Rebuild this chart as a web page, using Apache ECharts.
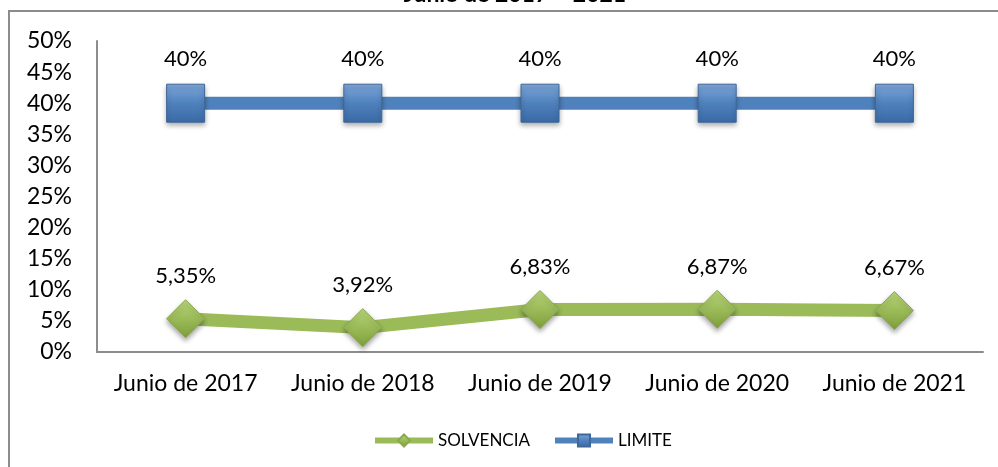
<!DOCTYPE html>
<html>
<head>
<meta charset="utf-8">
<script src="https://cdn.jsdelivr.net/npm/echarts@6/dist/echarts.min.js"></script>
<style>
  html, body { margin: 0; padding: 0; background: #fff; }
  #chart { width: 998px; height: 467px; }
</style>
</head>
<body>
<div id="chart"></div>
<script>
var categories = ["Junio de 2017", "Junio de 2018", "Junio de 2019", "Junio de 2020", "Junio de 2021"];
var solvencia = [0.0535, 0.0392, 0.0683, 0.0687, 0.0667];
var limite = [0.40, 0.40, 0.40, 0.40, 0.40];

var chart = echarts.init(document.getElementById("chart"));

var fontFam = "Lato, 'Open Sans', sans-serif";

function pct(v, dec) {
  return (v * 100).toFixed(dec).replace(".", ",") + "%";
}

var option = {
  backgroundColor: "#ffffff",
  animation: false,
  title: {
    text: "Junio de 2017 – 2021",
    left: 510,
    top: -22,
    textAlign: "center",
    textStyle: { fontFamily: fontFam, fontSize: 23, fontWeight: "bold", color: "#000" }
  },
  graphic: [
    {
      type: "polyline",
      shape: { points: [[9, 467], [9, 11], [998, 11]] },
      style: { stroke: "#8c8c8c", lineWidth: 2, fill: null },
      silent: true
    }
  ],
  grid: { left: 97, right: 15, top: 41, bottom: 115 },
  legend: {
    top: 427,
    left: 367,
    itemWidth: 58,
    itemHeight: 15,
    itemGap: 22,
    lineStyle: { width: 6 },
    textStyle: { fontFamily: fontFam, fontSize: 17, color: "#000" },
    data: ["SOLVENCIA", "LIMITE"]
  },
  xAxis: {
    type: "category",
    data: categories,
    boundaryGap: true,
    axisLine: { show: true, lineStyle: { color: "#8c8c8c", width: 2 } },
    axisTick: { show: false },
    axisLabel: { fontFamily: fontFam, fontSize: 23, color: "#000", margin: 20, interval: 0, hideOverlap: false }
  },
  yAxis: {
    type: "value",
    min: 0,
    max: 0.5,
    interval: 0.05,
    axisLine: { show: true, lineStyle: { color: "#8c8c8c", width: 2 } },
    axisTick: { show: false },
    splitLine: { show: false },
    axisLabel: {
      fontFamily: fontFam, fontSize: 23, color: "#000", margin: 25,
      formatter: function (v) { return Math.round(v * 100) + "%"; }
    }
  },
  series: [
    {
      name: "SOLVENCIA",
      type: "line",
      data: solvencia,
      symbol: "diamond",
      symbolSize: 38,
      lineStyle: { color: "#9bbb59", width: 13 },
      itemStyle: {
        color: new echarts.graphic.LinearGradient(0, 0, 0, 1, [
          { offset: 0, color: "#b9d77a" },
          { offset: 0.5, color: "#9bbb59" },
          { offset: 1, color: "#7f9e3c" }
        ]),
        borderColor: "#8aa84c",
        borderWidth: 1,
        shadowColor: "rgba(0,0,0,0.35)",
        shadowBlur: 5,
        shadowOffsetY: 3
      },
      label: {
        show: true,
        position: "top",
        distance: 12,
        fontFamily: fontFam,
        fontSize: 22,
        color: "#000",
        formatter: function (p) { return pct(p.value, 2); }
      },
      z: 3
    },
    {
      name: "LIMITE",
      type: "line",
      data: limite,
      symbol: "rect",
      symbolSize: 38,
      lineStyle: { color: "#4f81bd", width: 13 },
      itemStyle: {
        color: new echarts.graphic.LinearGradient(0, 0, 0, 1, [
          { offset: 0, color: "#7fa8da" },
          { offset: 0.5, color: "#4f81bd" },
          { offset: 1, color: "#3a6aa6" }
        ]),
        borderColor: "#3d6899",
        borderWidth: 1,
        shadowColor: "rgba(0,0,0,0.35)",
        shadowBlur: 5,
        shadowOffsetY: 3
      },
      label: {
        show: true,
        position: "top",
        distance: 14,
        fontFamily: fontFam,
        fontSize: 22,
        color: "#000",
        formatter: function (p) { return pct(p.value, 0); }
      },
      z: 3
    }
  ]
};

chart.setOption(option);
</script>
</body>
</html>
